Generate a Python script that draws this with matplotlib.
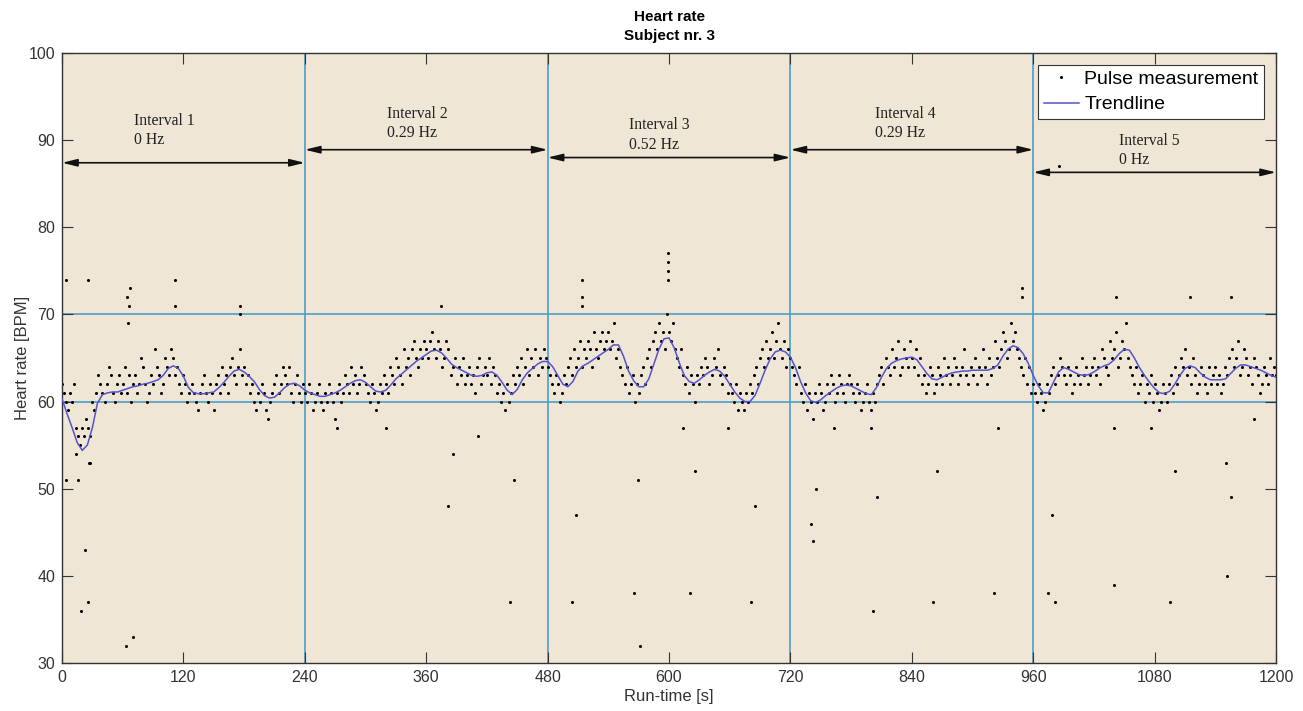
import numpy as np
import matplotlib
matplotlib.use('Agg')
import matplotlib.pyplot as plt

plt.rcParams['font.family'] = ['Liberation Sans', 'DejaVu Sans']

# Pulse measurements, one reading every 2 s (BPM)
pulse_hr = [
    62, 61, 60, 59, 61, 60, 62, 57, 56, 55, 57, 56, 58, 57, 56, 60, 59, 61, 63, 62, 61, 60, 62, 64, 63, 61, 60, 62, 63, 61,
    62, 64, 61, 63, 60, 62, 63, 61, 62, 65, 64, 62, 60, 61, 63, 62, 66, 64, 63, 61, 62, 65, 64, 63, 66, 65, 63, 64, 62, 61,
    63, 62, 60, 61, 62, 61, 60, 59, 61, 62, 63, 61, 60, 62, 61, 59, 62, 63, 61, 64, 62, 63, 61, 64, 65, 63, 62, 64, 66, 63,
    64, 62, 63, 61, 62, 60, 59, 61, 60, 62, 61, 59, 58, 60, 61, 62, 63, 61, 62, 64, 63, 62, 64, 61, 60, 62, 63, 61, 60, 62,
    61, 60, 62, 61, 59, 60, 61, 62, 60, 59, 61, 60, 62, 61, 60, 58, 61, 62, 60, 61, 63, 62, 61, 64, 62, 63, 61, 62, 64, 63,
    62, 61, 60, 62, 61, 59, 60, 62, 61, 63, 62, 61, 64, 63, 62, 65, 64, 63, 62, 66, 64, 65, 63, 66, 67, 65, 64, 66, 65, 67,
    66, 65, 67, 68, 66, 65, 67, 66, 64, 65, 67, 66, 63, 64, 65, 62, 64, 63, 65, 62, 63, 64, 62, 63, 61, 64, 65, 62, 63, 64,
    63, 65, 62, 64, 63, 61, 62, 60, 61, 59, 62, 60, 61, 63, 62, 64, 63, 65, 62, 64, 66, 63, 65, 64, 66, 63, 65, 64, 66, 65,
    64, 63, 62, 61, 63, 62, 60, 61, 63, 62, 64, 65, 63, 66, 64, 65, 67, 64, 66, 65, 67, 66, 64, 68, 66, 65, 67, 68, 66, 67,
    68, 66, 67, 69, 65, 66, 64, 63, 62, 64, 61, 62, 63, 60, 62, 61, 63, 64, 62, 65, 66, 64, 67, 68, 66, 69, 67, 68, 66, 70,
    68, 67, 69, 66, 65, 64, 66, 63, 62, 64, 61, 63, 62, 60, 63, 62, 64, 63, 65, 64, 62, 63, 65, 64, 66, 63, 62, 64, 63, 61,
    62, 61, 60, 62, 59, 61, 60, 59, 61, 60, 62, 61, 63, 64, 62, 65, 66, 64, 67, 65, 66, 68, 65, 67, 69, 66, 65, 67, 64, 66,
    65, 64, 63, 62, 64, 61, 60, 62, 59, 61, 60, 58, 61, 60, 62, 61, 59, 60, 62, 61, 63, 62, 60, 61, 63, 62, 61, 60, 62, 63,
    62, 61, 60, 62, 61, 59, 60, 61, 62, 60, 59, 61, 60, 62, 63, 64, 62, 65, 64, 63, 66, 64, 65, 67, 63, 64, 66, 65, 64, 67,
    65, 64, 66, 63, 65, 62, 63, 61, 62, 64, 63, 61, 62, 64, 63, 62, 65, 63, 64, 62, 63, 65, 64, 62, 63, 64, 66, 63, 62, 64,
    63, 65, 62, 64, 63, 66, 64, 62, 65, 63, 64, 67, 65, 64, 66, 68, 67, 65, 66, 69, 67, 68, 66, 65, 64, 63, 65, 62, 64, 61,
    62, 61, 60, 62, 61, 59, 60, 62, 61, 63, 64, 62, 63, 65, 64, 63, 62, 64, 63, 61, 62, 64, 63, 62, 65, 63, 64, 62, 63, 64,
    65, 63, 64, 62, 66, 65, 64, 63, 67, 65, 66, 68, 64, 65, 67, 66, 69, 65, 64, 63, 62, 64, 61, 62, 63, 60, 62, 61, 63, 60,
    62, 61, 59, 60, 62, 61, 60, 62, 63, 61, 64, 62, 63, 65, 64, 66, 63, 64, 62, 65, 63, 61, 62, 64, 63, 62, 61, 64, 62, 63,
    64, 62, 63, 61, 62, 64, 63, 65, 66, 64, 65, 67, 63, 64, 66, 65, 63, 64, 62, 65, 64, 63, 61, 62, 64, 63, 62, 65, 63, 64,
    63,
]

# Isolated readings away from the main band
outlier_t = [4, 26, 64, 65, 66, 67, 112, 112, 176, 176, 14, 28,
             4, 16, 27, 23, 26, 19, 63, 70, 382, 447, 443, 375, 386, 411,
             272, 320, 514, 514, 514, 508, 504, 569, 565, 571,
             599, 599, 599, 599, 614, 626, 621, 658, 685, 681,
             745, 740, 742, 763, 800, 806, 802, 865, 861, 921, 925, 949, 949,
             979, 975, 982, 985, 1040, 1042, 1040, 1076, 1115, 1100, 1095,
             1155, 1151, 1155, 1152, 1178]
outlier_hr = [74, 74, 72, 69, 71, 73, 74, 71, 71, 70, 54, 53,
              51, 51, 53, 43, 37, 36, 32, 33, 48, 51, 37, 71, 54, 56,
              57, 57, 74, 72, 71, 47, 37, 51, 38, 32,
              77, 76, 75, 74, 57, 52, 38, 57, 48, 37,
              50, 46, 44, 57, 57, 49, 36, 52, 37, 38, 57, 73, 72,
              47, 38, 37, 87, 39, 72, 57, 57, 72, 52, 37,
              72, 53, 49, 40, 58]

# Trendline, one value every 5 s
trend_bpm = [
    60.3, 58.6, 57.0, 55.3, 54.4, 55.0, 57.0, 59.8, 60.8, 61.0, 61.1, 61.1, 61.3, 61.5, 61.7, 61.8, 62.0, 62.1, 62.3, 62.5,
    63.0, 63.8, 64.1, 63.8, 62.9, 61.6, 61.0, 60.9, 60.9, 61.0, 61.1, 61.6, 62.2, 62.9, 63.5, 63.7, 63.4, 62.9, 62.3, 61.4,
    60.7, 60.4, 60.5, 61.0, 61.6, 62.0, 62.1, 61.8, 61.3, 61.0, 60.8, 60.6, 60.6, 60.8, 61.0, 61.3, 61.7, 62.1, 62.4, 62.5,
    62.2, 61.7, 61.2, 61.1, 61.3, 61.9, 62.6, 63.1, 63.6, 64.1, 64.6, 65.0, 65.4, 65.8, 65.9, 65.6, 65.0, 64.3, 63.9, 63.6,
    63.3, 63.0, 62.9, 63.0, 63.3, 63.4, 63.0, 62.2, 61.3, 60.8, 61.4, 62.5, 63.3, 63.8, 64.3, 64.6, 64.6, 64.0, 63.0, 62.0,
    61.7, 62.3, 63.5, 64.1, 64.4, 64.8, 65.2, 65.6, 66.0, 66.5, 66.5, 65.2, 63.5, 62.4, 61.7, 61.7, 62.6, 64.3, 66.0, 67.2,
    67.3, 66.2, 64.5, 63.0, 62.3, 62.1, 62.5, 63.0, 63.4, 63.7, 63.5, 62.9, 62.0, 61.1, 60.4, 60.0, 60.0, 60.7, 62.1, 63.6,
    64.9, 65.7, 65.9, 65.7, 65.1, 63.9, 62.3, 61.0, 60.1, 59.9, 60.2, 60.7, 61.1, 61.5, 61.8, 61.9, 61.8, 61.5, 61.2, 60.9,
    60.8, 61.6, 62.8, 63.8, 64.4, 64.7, 64.9, 65.0, 65.1, 64.8, 64.0, 63.2, 62.6, 62.5, 62.8, 63.1, 63.3, 63.4, 63.5, 63.5,
    63.6, 63.6, 63.6, 63.6, 63.8, 64.2, 65.2, 66.0, 66.4, 66.2, 65.5, 64.4, 63.0, 61.8, 61.0, 61.0, 62.2, 63.4, 63.9, 63.7,
    63.4, 63.1, 63.0, 63.1, 63.4, 63.8, 64.1, 64.3, 64.8, 65.5, 66.0, 65.9, 65.0, 63.9, 63.0, 62.2, 61.5, 61.0, 60.9, 61.2,
    62.0, 63.0, 63.8, 64.1, 63.9, 63.3, 62.8, 62.5, 62.5, 62.5, 62.6, 63.2, 63.8, 64.2, 64.2, 64.0, 63.8, 63.6, 63.3, 63.0,
    62.8,
]

bounds = [0, 240, 480, 720, 960, 1200]
interval_names = ['Interval 1', 'Interval 2', 'Interval 3', 'Interval 4', 'Interval 5']
interval_freqs = ['0 Hz', '0.29 Hz', '0.52 Hz', '0.29 Hz', '0 Hz']
ref_levels = [60, 70]

# annotation layout
arrow_y = [87.4, 88.9, 88.0, 88.9, 86.3]
label_x = [71, 321, 560, 804, 1045]
label_y = [91.1, 91.9, 90.6, 91.9, 88.8]

pulse_t = np.arange(len(pulse_hr)) * 2.0
trend_t = np.arange(len(trend_bpm)) * 5.0

line_blue = '#4d9cc6'
fig = plt.figure(figsize=(13.03, 7.11), dpi=100)
ax = fig.add_axes([0.0476, 0.0675, 0.9317, 0.858])
ax.set_facecolor('#efe6d5')

for b in bounds[1:-1]:
    ax.axvline(b, color=line_blue, lw=1.2, zorder=1)
for r in ref_levels:
    ax.axhline(r, color=line_blue, lw=1.2, zorder=1)

ax.plot(pulse_t, pulse_hr, '.', color='k', ms=2.4, label='Pulse measurement', zorder=2)
ax.plot(outlier_t, outlier_hr, '.', color='k', ms=2.4, zorder=2)
ax.plot(trend_t, trend_bpm, color='#5454cc', lw=1.1, label='Trendline', zorder=3)

for i in range(5):
    ax.annotate('', xy=(bounds[i + 1], arrow_y[i]), xytext=(bounds[i], arrow_y[i]),
                arrowprops=dict(arrowstyle='<|-|>,head_length=0.9,head_width=0.22',
                                color='#111111', lw=1.2, shrinkA=0, shrinkB=0))
    ax.text(label_x[i], label_y[i], interval_names[i] + '\n' + interval_freqs[i],
            family=['Liberation Serif', 'DejaVu Serif'], fontsize=11.3,
            ha='left', va='center', linespacing=1.3, color='#222222')

ax.set_xlim(0, 1200)
ax.set_ylim(30, 100)
ax.set_xticks(range(0, 1201, 120))
ax.set_yticks(range(30, 101, 10))
ax.tick_params(direction='in', length=8, width=0.8, top=True, right=True,
               labelsize=11.5, colors='#333333', pad=5)
for s in ax.spines.values():
    s.set_color('#333333')
    s.set_linewidth(1.0)

ax.set_xlabel('Run-time [s]', fontsize=12, color='#333333', labelpad=3)
ax.set_ylabel('Heart rate [BPM]', fontsize=12, color='#333333', labelpad=-1)
ax.set_title('Heart rate\nSubject nr. 3', fontsize=11, fontweight='bold', pad=9, linespacing=1.5)

leg = ax.legend(loc='upper right', fontsize=14, fancybox=False, framealpha=1,
                edgecolor='#333333', borderpad=0.3, handlelength=1.8,
                handletextpad=0.3, labelspacing=0.4, borderaxespad=0.6)
leg.get_frame().set_linewidth(0.8)

fig.savefig('out.png', dpi=100)
